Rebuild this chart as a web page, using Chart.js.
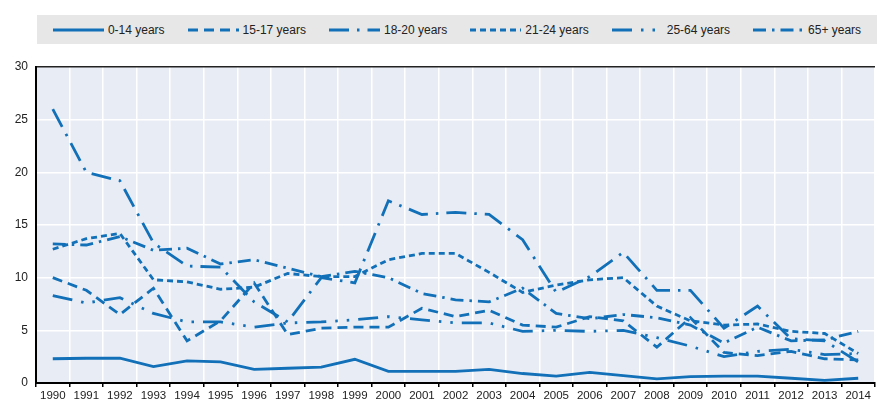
<!DOCTYPE html>
<html>
<head>
<meta charset="utf-8">
<script src="https://cdn.jsdelivr.net/npm/chart.js@4.4.1/dist/chart.umd.min.js"></script>
<style>
  html, body { margin: 0; padding: 0; background: #fff; }
  #wrap { position: relative; width: 877px; height: 404px; }
  #legend {
    position: absolute; left: 37px; top: 15px; width: 840px; height: 29px;
    background: #e7e7e7; display: flex; align-items: center; justify-content: center;
    gap: 23px; font: 12px 'Liberation Sans', Arial, sans-serif; color: #222;
  }
  .item { display: flex; align-items: center; gap: 4px; white-space: nowrap; }
</style>
</head>
<body>
<div id="wrap">
  <canvas id="lineChart" width="877" height="404"></canvas>
  <div id="legend"></div>
</div>
<script>
// Data (rate per year, by age group)
const years = ['1990','1991','1992','1993','1994','1995','1996','1997','1998','1999','2000','2001','2002',
               '2003','2004','2005','2006','2007','2008','2009','2010','2011','2012','2013','2014'];
const age0to14  = [2.3, 2.35, 2.35, 1.55, 2.1, 2.0, 1.3, 1.4, 1.5, 2.25, 1.1, 1.1, 1.1, 1.3, 0.9, 0.65, 1.0, 0.7, 0.4, 0.6, 0.65, 0.65, 0.45, 0.25, 0.45];
const age15to17 = [10.0, 8.8, 6.5, 9.0, 4.0, 5.9, 9.5, 4.6, 5.2, 5.3, 5.3, 7.1, 6.3, 6.9, 5.5, 5.3, 6.3, 5.9, 3.4, 6.2, 2.9, 2.6, 3.0, 2.3, 2.2];
const age18to20 = [26.0, 20.0, 19.2, 13.3, 11.1, 11.0, 7.7, 5.8, 10.0, 9.5, 17.3, 16.0, 16.2, 16.0, 13.6, 8.6, 10.1, 12.4, 8.8, 8.8, 5.2, 7.3, 4.2, 4.0, 2.0];
const age21to24 = [12.7, 13.7, 14.2, 9.8, 9.6, 8.9, 9.1, 10.4, 10.1, 10.1, 11.7, 12.3, 12.3, 10.5, 8.6, 9.3, 9.8, 10.0, 7.3, 5.9, 5.5, 5.6, 4.9, 4.7, 2.8];
const age25to64 = [8.3, 7.6, 8.1, 6.6, 5.8, 5.8, 5.3, 5.7, 5.8, 6.0, 6.3, 6.0, 5.7, 5.7, 4.9, 5.0, 4.9, 5.0, 4.3, 3.5, 2.5, 3.0, 3.2, 2.7, 2.8];
const age65plus = [13.2, 13.1, 13.9, 12.6, 12.8, 11.3, 11.7, 10.9, 10.1, 10.6, 10.0, 8.5, 7.9, 7.7, 9.0, 6.6, 6.1, 6.5, 6.2, 5.5, 3.8, 5.3, 4.0, 4.1, 4.9];
const yTicks = [0, 5, 10, 15, 20, 25, 30];

const blue = '#1170b8';
const series = [
  { label: '0-14 years',  data: age0to14,  dash: [] },
  { label: '15-17 years', data: age15to17, dash: [10, 6] },
  { label: '18-20 years', data: age18to20, dash: [20, 8, 2.5, 8] },
  { label: '21-24 years', data: age21to24, dash: [6, 4] },
  { label: '25-64 years', data: age25to64, dash: [20, 9, 2.5, 9, 2.5, 9] },
  { label: '65+ years',   data: age65plus, dash: [13, 6, 2.5, 6] }
];

// legend strip on grey background
const legendEl = document.getElementById('legend');
series.forEach(s => {
  const item = document.createElement('div');
  item.className = 'item';
  item.innerHTML = '<svg width="51" height="6"><line x1="0" y1="3" x2="51" y2="3" stroke="' + blue +
    '" stroke-width="2.8" stroke-dasharray="' + (s.dash.length ? s.dash.join(' ') : 'none') + '"/></svg>' +
    '<span>' + s.label + '</span>';
  legendEl.appendChild(item);
});

// light plot background
const plotBg = {
  id: 'plotBg',
  beforeDraw(chart) {
    const { ctx, chartArea: a } = chart;
    ctx.save();
    ctx.fillStyle = '#e8ecf5';
    ctx.fillRect(a.left, a.top, a.right - a.left, a.bottom - a.top);
    ctx.restore();
  }
};

const ctx = document.getElementById('lineChart').getContext('2d');
new Chart(ctx, {
  type: 'line',
  data: {
    labels: years,
    datasets: series.map(s => ({
      label: s.label,
      data: s.data,
      borderColor: blue,
      borderWidth: 2.8,
      borderDash: s.dash,
      borderCapStyle: 'butt',
      pointRadius: 0,
      tension: 0,
      fill: false
    }))
  },
  options: {
    responsive: false,
    animation: false,
    devicePixelRatio: 1,
    layout: { padding: { top: 67, right: 2, left: 0, bottom: 0 } },
    plugins: {
      legend: { display: false },
      tooltip: { enabled: false }
    },
    scales: {
      x: {
        offset: true,
        grid: { offset: true, color: '#fff', lineWidth: 1.5, tickColor: '#000', tickLength: 4 },
        border: { color: '#000', width: 2 },
        ticks: { color: '#222', padding: 2, maxRotation: 0, autoSkip: false,
                 font: { family: "'Liberation Sans', Arial, sans-serif", size: 11.5 } },
        afterFit(s) { s.height = 21; }
      },
      y: {
        min: 0, max: 30,
        afterBuildTicks(s) { s.ticks = yTicks.map(v => ({ value: v })); },
        grid: {
          color: c => c.tick && c.tick.value === 30 ? '#222' : '#fff',
          lineWidth: 1.5,
          drawTicks: false
        },
        border: { color: '#000', width: 2 },
        ticks: { color: '#222', padding: 8,
                 font: { family: "'Liberation Sans', Arial, sans-serif", size: 12 } },
        afterFit(s) { s.width = 36; }
      }
    }
  },
  plugins: [plotBg]
});
</script>
</body>
</html>
